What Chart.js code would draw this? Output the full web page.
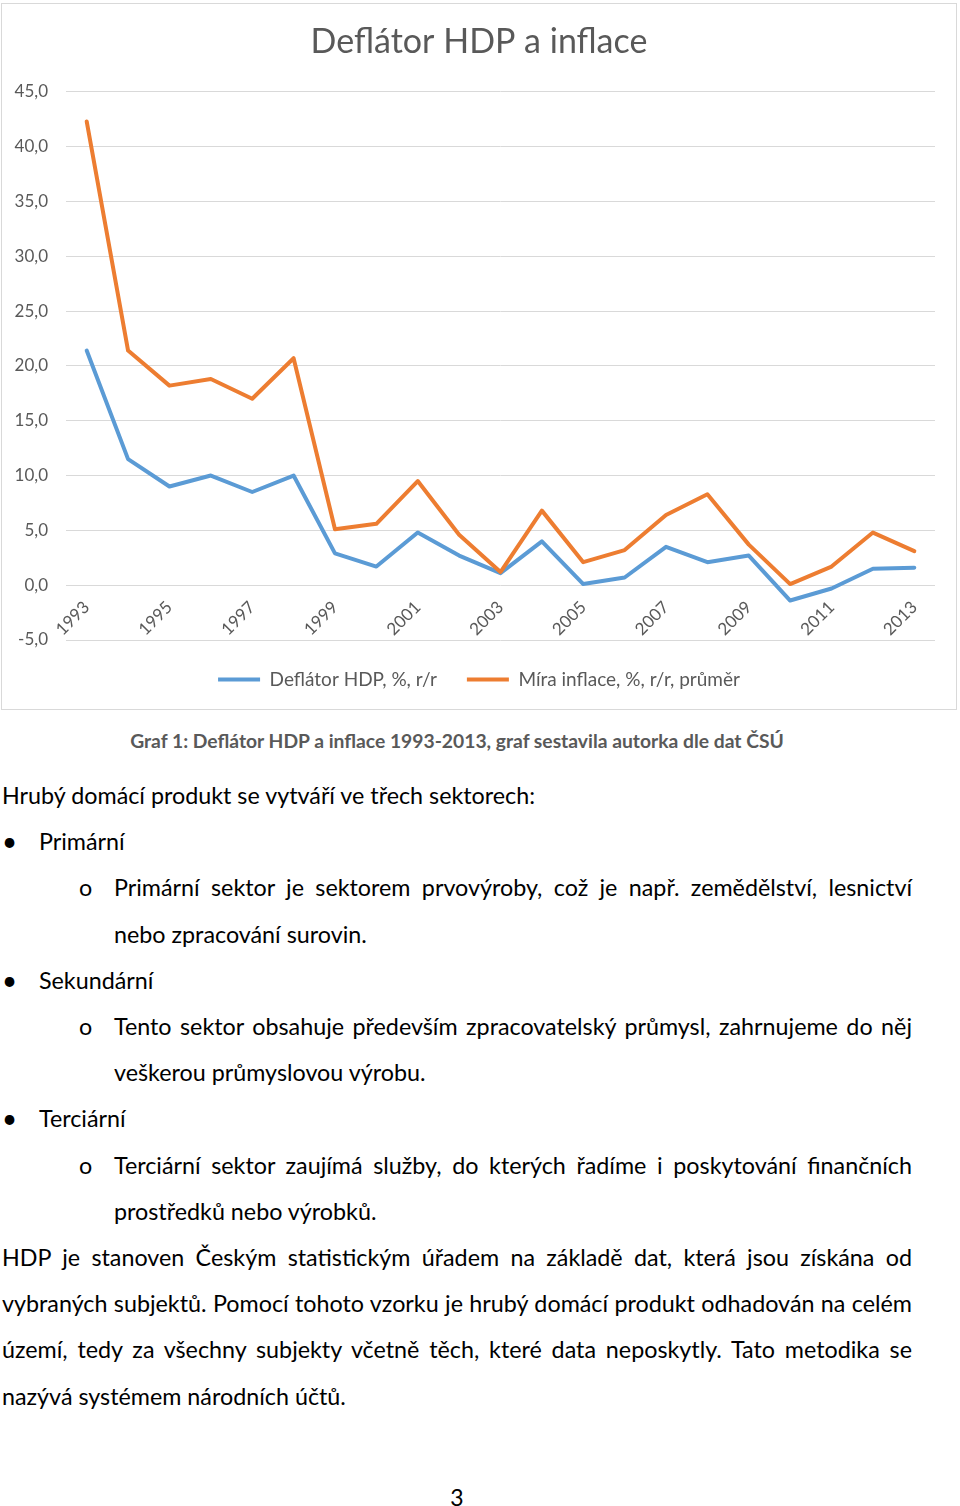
<!DOCTYPE html>
<html lang="cs">
<head>
<meta charset="utf-8">
<title>Deflátor HDP a inflace</title>
<script src="https://cdn.jsdelivr.net/npm/chart.js@4.4.1/dist/chart.umd.min.js"></script>
<style>
    html, body { margin: 0; padding: 0; background: #fff; }
    body { width: 960px; height: 1506px; position: relative; font-family: Lato, "Open Sans", sans-serif; color: #000; }
    #chartBox {
        position: absolute; left: 1px; top: 3px; width: 956px; height: 707px;
        border: 1px solid #d9d9d9; box-sizing: border-box;
    }
    .caption {
        position: absolute; left: 0; width: 914px; top: 727px; text-align: center;
        font-weight: bold; font-size: 19.3px; color: #595959; line-height: 28px;
    }
    .doc { position: absolute; left: 2px; top: 772px; width: 910px; font-size: 23.3px; line-height: 46.2px; }
    .doc div { position: relative; white-space: nowrap; }
    .doc .full { text-align: justify; text-align-last: justify; white-space: normal; }
    .l1 { padding-left: 37px; }
    .l2 { padding-left: 112px; }
    .mk { position: absolute; }
    .l1 .mk { left: 0; font-size: 26px; }
    .l2 .mk { left: 77px; }
    .pageno { position: absolute; left: 0; width: 914px; top: 1482px; text-align: center; font-size: 23px; line-height: 30px; }
</style>
</head>
<body>
<div id="chartBox"><canvas id="deflatorChart"></canvas></div>

<div class="caption">Graf 1: Deflátor HDP a inflace 1993-2013, graf sestavila autorka dle dat ČSÚ</div>

<div class="doc">
    <div>Hrubý domácí produkt se vytváří ve třech sektorech:</div>
    <div class="l1"><span class="mk">•</span>Primární</div>
    <div class="l2 full"><span class="mk">o</span>Primární sektor je sektorem prvovýroby, což je např. zemědělství, lesnictví</div>
    <div class="l2">nebo zpracování surovin.</div>
    <div class="l1"><span class="mk">•</span>Sekundární</div>
    <div class="l2 full"><span class="mk">o</span>Tento sektor obsahuje především zpracovatelský průmysl, zahrnujeme do něj</div>
    <div class="l2">veškerou průmyslovou výrobu.</div>
    <div class="l1"><span class="mk">•</span>Terciární</div>
    <div class="l2 full"><span class="mk">o</span>Terciární sektor zaujímá služby, do kterých řadíme i poskytování finančních</div>
    <div class="l2">prostředků nebo výrobků.</div>
    <div class="full">HDP je stanoven Českým statistickým úřadem na základě dat, která jsou získána od</div>
    <div class="full">vybraných subjektů. Pomocí tohoto vzorku je hrubý domácí produkt odhadován na celém</div>
    <div class="full">území, tedy za všechny subjekty včetně těch, které data neposkytly. Tato metodika se</div>
    <div>nazývá systémem národních účtů.</div>
</div>

<div class="pageno">3</div>

<script>
const TITLE = 'Deflátor HDP a inflace';
const YEARS = ['1993', '1994', '1995', '1996', '1997', '1998', '1999', '2000', '2001', '2002', '2003',
    '2004', '2005', '2006', '2007', '2008', '2009', '2010', '2011', '2012', '2013'];
const SERIES_NAMES = ['Deflátor HDP, %, r/r', 'Míra inflace, %, r/r, průměr'];
const DEFLATOR = [21.4, 11.5, 9.0, 10.0, 8.5, 10.0, 2.9, 1.7, 4.8, 2.7, 1.1,
    4.0, 0.1, 0.7, 3.5, 2.1, 2.7, -1.4, -0.3, 1.5, 1.6];
const INFLATION = [42.3, 21.4, 18.2, 18.8, 17.0, 20.7, 5.1, 5.6, 9.5, 4.6, 1.2,
    6.8, 2.1, 3.2, 6.4, 8.3, 3.7, 0.1, 1.7, 4.8, 3.1];
const Y_MIN = -5;
const Y_MAX = 45;
const Y_STEP = 5;

const COLORS = { deflator: '#5B9BD5', inflation: '#ED7D31', text: '#595959', grid: '#d9d9d9' };

function fmtTick(v) {
    return Number(v).toFixed(1).replace('.', ',');
}

function renderChart() {
    if (typeof Chart === 'undefined') {
        console.error('Chart.js not loaded');
        return;
    }
    Chart.defaults.font.family = 'Lato, "Open Sans", sans-serif';
    Chart.defaults.color = COLORS.text;

    const canvas = document.getElementById('deflatorChart');
    new Chart(canvas.getContext('2d'), {
        type: 'line',
        data: {
            labels: YEARS,
            datasets: [{
                label: SERIES_NAMES[0],
                data: DEFLATOR,
                borderColor: COLORS.deflator,
                backgroundColor: COLORS.deflator,
                borderWidth: 4,
                borderJoinStyle: 'round',
                borderCapStyle: 'round',
                pointRadius: 0,
                order: 1
            }, {
                label: SERIES_NAMES[1],
                data: INFLATION,
                borderColor: COLORS.inflation,
                backgroundColor: COLORS.inflation,
                borderWidth: 4,
                borderJoinStyle: 'round',
                borderCapStyle: 'round',
                pointRadius: 0,
                order: 0
            }]
        },
        options: {
            responsive: true,
            maintainAspectRatio: false,
            animation: false,
            layout: { padding: { left: 0, right: 0, top: 0, bottom: 10 } },
            plugins: {
                title: {
                    display: true,
                    text: TITLE,
                    color: COLORS.text,
                    font: { size: 34, weight: 'normal' },
                    padding: { top: 18, bottom: 29 }
                },
                legend: {
                    position: 'bottom',
                    labels: {
                        usePointStyle: true,
                        pointStyle: 'line',
                        pointStyleWidth: 42,
                        color: COLORS.text,
                        font: { size: 19 },
                        padding: 30,
                        sort: (a, b) => a.datasetIndex - b.datasetIndex
                    }
                },
                tooltip: { enabled: false }
            },
            scales: {
                x: {
                    position: { y: 0 },
                    offset: true,
                    grid: { display: false, offset: true },
                    border: { display: false },
                    ticks: {
                        autoSkip: false,
                        minRotation: 45,
                        maxRotation: 45,
                        padding: 4,
                        color: COLORS.text,
                        font: { size: 17 },
                        callback: (v, i) => (i % 2 === 0 ? YEARS[i] : null)
                    },
                    afterFit: (s) => { s.height = 3; }
                },
                y: {
                    min: Y_MIN,
                    max: Y_MAX,
                    ticks: {
                        stepSize: Y_STEP,
                        padding: 18,
                        color: COLORS.text,
                        font: { size: 17 },
                        callback: fmtTick
                    },
                    grid: { color: COLORS.grid, drawTicks: false },
                    border: { display: false },
                    afterFit: (s) => { s.width = 64; }
                },
                // empty right-hand axis, only reserves the white margin right of the plot
                yRight: {
                    position: 'right',
                    min: Y_MIN,
                    max: Y_MAX,
                    grid: { display: false },
                    border: { display: false },
                    ticks: { display: false },
                    afterFit: (s) => { s.width = 21; }
                }
            }
        }
    });
}

window.addEventListener('load', renderChart);
</script>
</body>
</html>
